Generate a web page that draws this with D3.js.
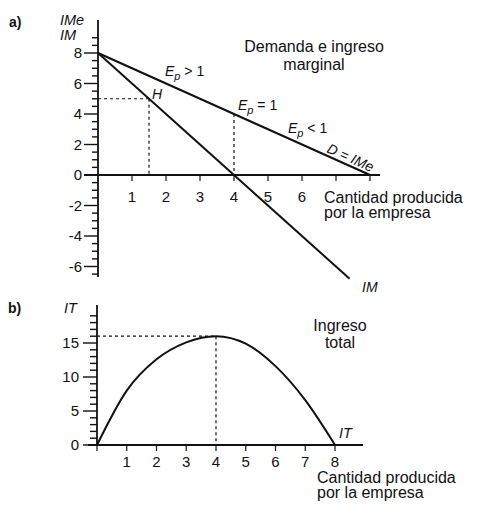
<!DOCTYPE html>
<html><head><meta charset="utf-8">
<script src="https://cdn.jsdelivr.net/npm/d3@7"></script>
<style>
body{margin:0;background:#fff;}
svg{display:block;font-family:"Liberation Sans",Arial,sans-serif;}
text{fill:#111;}
</style></head><body>
<svg id="c" width="485" height="509"></svg>
<script>
// ---- Data ----
const xTicks = [1,2,3,4,5,6,7,8];
const xTickLabelsA = ["1","2","3","4","5","6","",""];
const xTickLabelsB = ["1","2","3","4","5","6","7","8"];
const yTicksA = [-6,-4,-2,0,2,4,6,8];
const yTicksB = [0,5,10,15];
// demand D = IMe
const demandQ = [0, 8];
const demandP = [8, 0];
// marginal revenue IM
const imQ = [0, 7.4];
const imV = [8, -6.8];
// point H on IM
const hQ = 1.5, hV = 5;
// unit elasticity point
const unitQ = 4, unitP = 4;
// total revenue IT
const itQ = [0, 1, 2, 3, 4, 5, 6, 7, 8];
const itV = [0, 8.0, 12.6, 15.1, 16, 14.9, 11.6, 6.6, 0];

const svg = d3.select("#c");
const ink = "#111";

const xA = d3.scaleLinear().domain([0,8]).range([98,370]);
const yA = d3.scaleLinear().domain([-6,8]).range([266.5,53]);
const xB = d3.scaleLinear().domain([0,8]).range([97,335]);
const yB = d3.scaleLinear().domain([0,20]).range([445,309]);

function yAxisTicks(g, y, x0, majors, minors, majLen, minLen){
  g.selectAll(null).data(minors).join("line")
    .attr("x1", x0-minLen).attr("x2", x0).attr("y1", d=>y(d)).attr("y2", d=>y(d))
    .attr("stroke", ink).attr("stroke-width", 1.4);
  g.selectAll(null).data(majors).join("line")
    .attr("x1", x0-majLen).attr("x2", x0).attr("y1", d=>y(d)).attr("y2", d=>y(d))
    .attr("stroke", ink).attr("stroke-width", 1.4);
}

// ================= Panel a =================
const ga = svg.append("g");
ga.append("line").attr("x1", xA(0)).attr("x2", xA(0)).attr("y1", 20).attr("y2", 277)
  .attr("stroke", ink).attr("stroke-width", 1.8);
const minorsA = d3.range(-13, 19).map(d=>d/2).filter(d=>d%2!==0);
yAxisTicks(ga, yA, xA(0), yTicksA, minorsA, 14, 6);
ga.selectAll(null).data(yTicksA).join("text")
  .attr("x", 82).attr("y", d=>yA(d)).attr("dy","0.36em").attr("text-anchor","end")
  .attr("font-size", 15).text(d=>d);
ga.append("line").attr("x1", 84).attr("x2", 380).attr("y1", yA(0)).attr("y2", yA(0))
  .attr("stroke", ink).attr("stroke-width", 1.8);
ga.selectAll(null).data(xTicks).join("line")
  .attr("x1", d=>xA(d)).attr("x2", d=>xA(d)).attr("y1", yA(0)).attr("y2", yA(0)+6)
  .attr("stroke", ink).attr("stroke-width", 1.2);
ga.selectAll(null).data(xTicks).join("text")
  .attr("x", d=>xA(d)).attr("y", yA(0)+27).attr("text-anchor","middle")
  .attr("font-size", 15).text((d,i)=>xTickLabelsA[i]);

const dash = "3,3";
ga.append("line").attr("x1", xA(0)).attr("x2", xA(hQ)).attr("y1", yA(hV)).attr("y2", yA(hV))
  .attr("stroke", ink).attr("stroke-width", 1.2).attr("stroke-dasharray", dash);
ga.append("line").attr("x1", xA(hQ)).attr("x2", xA(hQ)).attr("y1", yA(hV)).attr("y2", yA(0))
  .attr("stroke", ink).attr("stroke-width", 1.2).attr("stroke-dasharray", dash);
ga.append("line").attr("x1", xA(unitQ)).attr("x2", xA(unitQ)).attr("y1", yA(unitP)).attr("y2", yA(0))
  .attr("stroke", ink).attr("stroke-width", 1.2).attr("stroke-dasharray", dash);

const lineA = d3.line().x(d=>xA(d[0])).y(d=>yA(d[1]));
ga.append("path").datum(demandQ.map((q,i)=>[q,demandP[i]])).attr("d", lineA)
  .attr("fill","none").attr("stroke", ink).attr("stroke-width", 2);
ga.append("path").datum(imQ.map((q,i)=>[q,imV[i]])).attr("d", lineA)
  .attr("fill","none").attr("stroke", ink).attr("stroke-width", 2);

function epLabel(g, x, y, rel){
  const t = g.append("text").attr("x", x).attr("y", y).attr("font-size", 14);
  t.append("tspan").attr("font-style","italic").text("E");
  t.append("tspan").attr("font-style","italic").attr("font-size", 11).attr("dy", 4).text("p");
  t.append("tspan").attr("dy", -4).text(" " + rel + " 1");
}
epLabel(ga, 165, 76, ">");
epLabel(ga, 238, 110, "=");
epLabel(ga, 288, 133, "<");
ga.append("text").attr("transform", "translate(326,152) rotate(24)")
  .attr("font-size", 14).attr("font-style","italic").text("D = IMe");
ga.append("text").attr("x", 152).attr("y", 99).attr("font-size", 14).attr("font-style","italic").text("H");
ga.append("text").attr("x", 362).attr("y", 292).attr("font-size", 14).attr("font-style","italic").text("IM");
ga.append("text").attr("x", 9).attr("y", 27).attr("font-size", 14).attr("font-weight","bold").text("a)");
ga.append("text").attr("x", 60).attr("y", 25).attr("font-size", 14.5).attr("font-style","italic").text("IMe");
ga.append("text").attr("x", 60).attr("y", 40).attr("font-size", 14.5).attr("font-style","italic").text("IM");
ga.append("text").attr("x", 314).attr("y", 52).attr("text-anchor","middle").attr("font-size", 16).text("Demanda e ingreso");
ga.append("text").attr("x", 314).attr("y", 70).attr("text-anchor","middle").attr("font-size", 16).text("marginal");
ga.append("text").attr("x", 324).attr("y", 203).attr("font-size", 16).text("Cantidad producida");
ga.append("text").attr("x", 324).attr("y", 218).attr("font-size", 16).text("por la empresa");

// ================= Panel b =================
const gb = svg.append("g");
gb.append("line").attr("x1", xB(0)).attr("x2", xB(0)).attr("y1", 305).attr("y2", yB(0))
  .attr("stroke", ink).attr("stroke-width", 1.8);
const minorsB = d3.range(1, 21).filter(d=>d%5!==0);
yAxisTicks(gb, yB, xB(0), yTicksB, minorsB, 14, 7);
gb.selectAll(null).data(yTicksB).join("text")
  .attr("x", 79).attr("y", d=>yB(d)).attr("dy","0.36em").attr("text-anchor","end")
  .attr("font-size", 15).text(d=>d);
gb.append("line").attr("x1", 88).attr("x2", 363).attr("y1", yB(0)).attr("y2", yB(0))
  .attr("stroke", ink).attr("stroke-width", 1.8);
gb.selectAll(null).data([0].concat(xTicks)).join("line")
  .attr("x1", d=>xB(d)).attr("x2", d=>xB(d)).attr("y1", yB(0)).attr("y2", yB(0)+6)
  .attr("stroke", ink).attr("stroke-width", 1.2);
gb.selectAll(null).data(xTicks).join("text")
  .attr("x", d=>xB(d)).attr("y", yB(0)+22).attr("text-anchor","middle")
  .attr("font-size", 15).text((d,i)=>xTickLabelsB[i]);

gb.append("line").attr("x1", xB(0)).attr("x2", xB(4)).attr("y1", yB(16)).attr("y2", yB(16))
  .attr("stroke", ink).attr("stroke-width", 1.2).attr("stroke-dasharray", dash);
gb.append("line").attr("x1", xB(4)).attr("x2", xB(4)).attr("y1", yB(16)).attr("y2", yB(0))
  .attr("stroke", ink).attr("stroke-width", 1.2).attr("stroke-dasharray", dash);

const lineB = d3.line().x(d=>xB(d[0])).y(d=>yB(d[1])).curve(d3.curveMonotoneX);
gb.append("path").datum(itQ.map((q,i)=>[q,itV[i]])).attr("d", lineB)
  .attr("fill","none").attr("stroke", ink).attr("stroke-width", 2);

gb.append("text").attr("x", 8).attr("y", 313).attr("font-size", 14).attr("font-weight","bold").text("b)");
gb.append("text").attr("x", 64).attr("y", 313).attr("font-size", 14.5).attr("font-style","italic").text("IT");
gb.append("text").attr("x", 339).attr("y", 438).attr("font-size", 14.5).attr("font-style","italic").text("IT");
gb.append("text").attr("x", 340).attr("y", 331).attr("text-anchor","middle").attr("font-size", 16).text("Ingreso");
gb.append("text").attr("x", 340).attr("y", 348).attr("text-anchor","middle").attr("font-size", 16).text("total");
gb.append("text").attr("x", 317).attr("y", 483).attr("font-size", 16).text("Cantidad producida");
gb.append("text").attr("x", 317).attr("y", 498).attr("font-size", 16).text("por la empresa");
</script>
</body></html>
